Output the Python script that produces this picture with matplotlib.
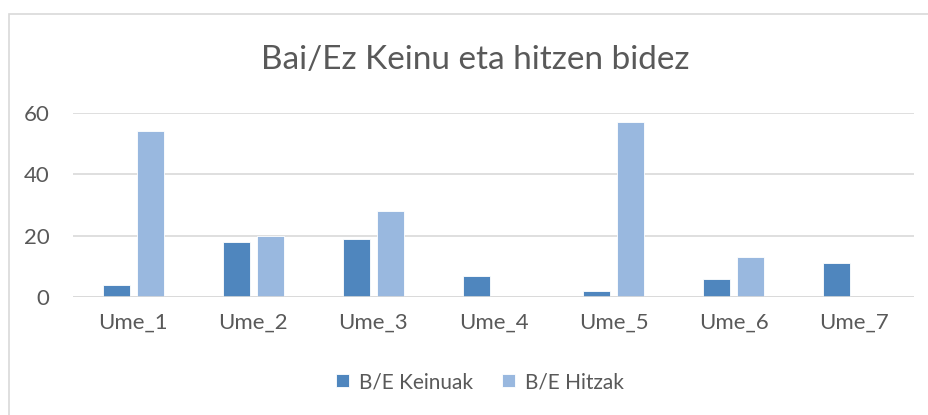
import matplotlib.pyplot as plt
import numpy as np
from matplotlib.patches import Rectangle

categories = ['Ume_1', 'Ume_2', 'Ume_3', 'Ume_4', 'Ume_5', 'Ume_6', 'Ume_7']
keinuak = [4, 18, 19, 7, 2, 6, 11]
hitzak = [54, 20, 28, 0, 57, 13, 0]
series_names = ['B/E Keinuak', 'B/E Hitzak']
yticks = [0, 20, 40, 60]

plt.rcParams['font.family'] = ['Lato', 'DejaVu Sans']

W, H = 929, 415
fig = plt.figure(figsize=(W / 100, H / 100), dpi=100)
ax = fig.add_axes([73 / W, 1 - 297 / H, (914 - 73) / W, (297 - 113) / H])

x = np.arange(len(categories))
bw = 0.225
off = (bw + 0.058) / 2
ax.bar(x - off, keinuak, bw, color='#4F86BE', edgecolor='#ffffff', linewidth=0.6,
       label=series_names[0], zorder=3)
ax.bar(x + off, hitzak, bw, color='#99B8DF', edgecolor='#ffffff', linewidth=0.6,
       label=series_names[1], zorder=3)

ax.set_xlim(-0.5, len(categories) - 0.5)
ax.set_ylim(0, 60)
ax.set_yticks(yticks)
ax.set_xticks(x)
ax.set_xticklabels(categories)
ax.tick_params(axis='both', length=0, labelsize=16, labelcolor='#595959')
ax.tick_params(axis='x', pad=11)
ax.tick_params(axis='y', pad=17)
ax.grid(axis='y', color='#d9d9d9', linewidth=1.2, zorder=0)
for s in ax.spines.values():
    s.set_visible(False)
ax.axhline(0, color='#d9d9d9', linewidth=1.2, zorder=4)

fig.text(475 / W, 1 - 60 / H, 'Bai/Ez Keinu eta hitzen bidez', ha='center', va='center',
         fontsize=24, color='#595959')

fig.legend(loc='center', bbox_to_anchor=(480 / W, 1 - 382 / H), ncol=2, frameon=False,
           fontsize=15, labelcolor='#595959', handlelength=0.6, handleheight=0.6,
           handletextpad=0.5, columnspacing=1.4)

# chart-area border (only left and top edges fall inside the image)
fig.patches.append(Rectangle((8.5 / W, -0.05), 1.0, 1 - 14.5 / H + 0.05,
                             transform=fig.transFigure, fill=False,
                             edgecolor='#d9d9d9', linewidth=1.2))

fig.savefig('out.png', dpi=100)
